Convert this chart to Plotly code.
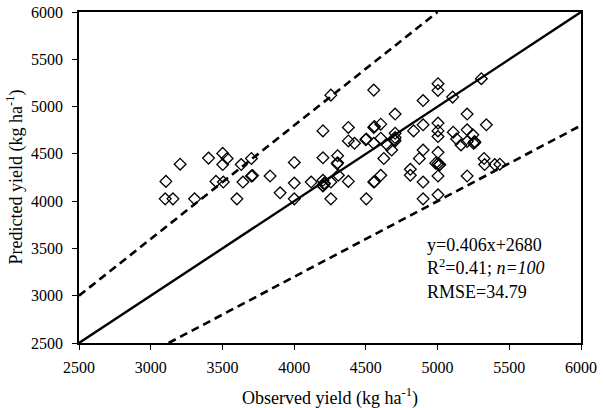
import plotly.graph_objects as go

observed = [3106, 3101, 3155, 3205, 3306, 3403, 3455, 3502, 3502, 3533,
            3506, 3601, 3631, 3643, 3702, 3702, 3832, 3902, 4001, 4001,
            4001, 4119, 4201, 4201, 4201, 4201, 4210, 4256, 4256, 4256,
            4303, 4303, 4308, 4378, 4378, 4378, 4421, 4503, 4503, 4555,
            4555, 4555, 4555, 4604, 4604, 4604, 4625, 4649, 4680, 4704,
            4704, 4704, 4704, 4833, 4810, 4810, 4873, 4899, 4899, 4899,
            4899, 4899, 5003, 5003, 5003, 5003, 5003, 5003, 5003, 5015,
            5003, 5003, 5105, 5109, 5133, 5163, 5206, 5206, 5206, 5206,
            5246, 5251, 5258, 5305, 5324, 5328, 5340, 5399, 5434, 4987,
            4500, 4300, 5010, 4200, 4560, 4700, 5260, 4210, 3710, 4560]
predicted = [4209, 4024, 4024, 4391, 4024, 4455, 4209, 4505, 4387, 4451,
             4202, 4024, 4387, 4202, 4451, 4266, 4266, 4088, 4409, 4191,
             4024, 4202, 4743, 4458, 4220, 4160, 4190, 5121, 4202, 4024,
             4480, 4405, 4273, 4779, 4637, 4209, 4612, 4658, 4024, 5174,
             4779, 4612, 4202, 4814, 4665, 4273, 4451, 4594, 4540, 4921,
             4718, 4672, 4637, 4743, 4337, 4273, 4451, 5064, 4807, 4540,
             4202, 4024, 5242, 5171, 4825, 4743, 4683, 4516, 4398, 4387,
             4266, 4067, 5100, 4729, 4658, 4594, 4921, 4754, 4630, 4266,
             4701, 4612, 4630, 5295, 4451, 4387, 4807, 4387, 4391, 4402,
             4650, 4395, 4380, 4165, 4205, 4650, 4620, 4180, 4270, 4790]

line_x = [2500, 6000]
one_to_one = [2500, 6000]
upper_x = [2500, 5000]
upper_y = [3000, 6000]
lower_x = [3125, 6000]
lower_y = [2500, 4800]

x_ticks = [2500, 3000, 3500, 4000, 4500, 5000, 5500, 6000]
y_ticks = [2500, 3000, 3500, 4000, 4500, 5000, 5500, 6000]

x_title = "Observed yield (kg ha<sup>-1</sup>)"
y_title = "Predicted yield (kg ha<sup>-1</sup>)"

FONT = "Liberation Serif, Times New Roman, serif"

fig = go.Figure()
fig.add_trace(go.Scatter(x=upper_x, y=upper_y, mode="lines",
                         line=dict(color="black", width=2.6, dash="8px,5px"),
                         showlegend=False, hoverinfo="skip"))
fig.add_trace(go.Scatter(x=lower_x, y=lower_y, mode="lines",
                         line=dict(color="black", width=2.6, dash="8px,5px"),
                         showlegend=False, hoverinfo="skip"))
fig.add_trace(go.Scatter(x=line_x, y=one_to_one, mode="lines",
                         line=dict(color="black", width=2.4),
                         showlegend=False, hoverinfo="skip"))
fig.add_trace(go.Scatter(x=observed, y=predicted, mode="markers",
                         marker=dict(symbol="diamond-open", size=9,
                                     color="black", line=dict(width=1.3, color="black")),
                         showlegend=False))

fig.add_annotation(x=4912, y=3293, xref="x", yref="y",
                   text="y=0.406x+2680<br>R<sup>2</sup>=0.41; <i>n=100</i><br>RMSE=34.79",
                   showarrow=False, xanchor="left", yanchor="middle", align="left",
                   font=dict(family=FONT, size=18, color="black"))

fig.add_annotation(x=0.5, y=0, xref="paper", yref="paper", yshift=-54,
                   text=x_title, showarrow=False, xanchor="center", yanchor="middle",
                   font=dict(family=FONT, size=18, color="black"))
fig.add_annotation(x=0, y=0.5, xref="paper", yref="paper", xshift=-64,
                   text=y_title, textangle=-90, showarrow=False,
                   xanchor="center", yanchor="middle",
                   font=dict(family=FONT, size=18, color="black"))

axis_common = dict(showgrid=False, zeroline=False, showline=True, linecolor="black",
                   linewidth=1.5, mirror=True, ticks="outside", ticklen=5,
                   tickwidth=1, tickcolor="black", automargin=False,
                   tickfont=dict(family=FONT, size=16, color="black"))

fig.update_xaxes(range=[2500, 6000], tickvals=x_ticks,
                 ticktext=[str(v) for v in x_ticks], ticklabelstandoff=4,
                 **axis_common)
fig.update_yaxes(range=[2500, 6000], tickvals=y_ticks,
                 ticktext=[str(v) for v in y_ticks], ticklabelstandoff=6,
                 **axis_common)

fig.update_layout(width=604, height=408, margin=dict(l=79, r=23, t=12, b=65),
                  paper_bgcolor="white", plot_bgcolor="white",
                  font=dict(family=FONT, color="black"))

fig.write_html("out.html")
